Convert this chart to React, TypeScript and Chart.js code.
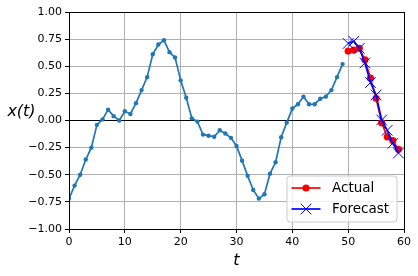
import React, { useEffect, useRef } from "react";
import { Chart, registerables } from "chart.js";

Chart.register(...registerables);

// Time steps 0..49 of the series
const seriesT: number[] = Array.from({ length: 50 }, (_, i) => i);
const seriesX: number[] = [
  -0.72, -0.6, -0.5, -0.36, -0.25, -0.04, 0.01, 0.1, 0.04, 0.0,
  0.085, 0.06, 0.16, 0.28, 0.4, 0.61, 0.7, 0.74, 0.63, 0.58,
  0.37, 0.21, 0.02, -0.01, -0.13, -0.14, -0.15, -0.09, -0.12, -0.16,
  -0.235, -0.37, -0.51, -0.64, -0.72, -0.68, -0.49, -0.385, -0.155, -0.02,
  0.11, 0.15, 0.22, 0.15, 0.15, 0.2, 0.22, 0.28, 0.4, 0.52,
];
// Future steps 50..59
const futureT: number[] = [50, 51, 52, 53, 54, 55, 56, 57, 58, 59];
const actualX: number[] = [0.64, 0.65, 0.665, 0.56, 0.39, 0.205, -0.02, -0.15, -0.185, -0.265];
const forecastX: number[] = [0.71, 0.73, 0.665, 0.53, 0.35, 0.235, 0.005, -0.09, -0.21, -0.3];

const legendLabels: string[] = ["Actual", "Forecast"];
const xTitle = "t";
const yTitle = "x(t)";

const FONT = "'DejaVu Sans', sans-serif";

const framePlugin = {
  id: "frame",
  afterDraw(chart: any) {
    const { ctx, chartArea: a } = chart;
    ctx.save();
    // spines
    ctx.strokeStyle = "#000";
    ctx.lineWidth = 1;
    ctx.strokeRect(Math.round(a.left) + 0.5, Math.round(a.top) + 0.5, Math.round(a.right - a.left), Math.round(a.bottom - a.top));
    // axis titles
    ctx.fillStyle = "#000";
    ctx.font = `italic 16px ${FONT}`;
    ctx.textAlign = "center";
    ctx.textBaseline = "middle";
    ctx.fillText(xTitle, (a.left + a.right) / 2, 261);
    ctx.fillText(yTitle, 21.5, 112);

    // legend
    const bx = a.right - 117, by = a.bottom - 53, bw = 110, bh = 46;
    ctx.beginPath();
    const r = 3;
    ctx.moveTo(bx + r, by);
    ctx.lineTo(bx + bw - r, by);
    ctx.arcTo(bx + bw, by, bx + bw, by + r, r);
    ctx.lineTo(bx + bw, by + bh - r);
    ctx.arcTo(bx + bw, by + bh, bx + bw - r, by + bh, r);
    ctx.lineTo(bx + r, by + bh);
    ctx.arcTo(bx, by + bh, bx, by + bh - r, r);
    ctx.lineTo(bx, by + r);
    ctx.arcTo(bx, by, bx + r, by, r);
    ctx.closePath();
    ctx.fillStyle = "rgba(255,255,255,0.8)";
    ctx.fill();
    ctx.strokeStyle = "#cccccc";
    ctx.stroke();

    const ds = chart.data.datasets;
    const rows = [by + 12, by + 33];
    [1, 2].forEach((di, i) => {
      const d = ds[di];
      const y = rows[i];
      const x0 = bx + 4.5, x1 = bx + 33.5, xm = (x0 + x1) / 2;
      ctx.strokeStyle = d.borderColor;
      ctx.lineWidth = d.borderWidth;
      ctx.beginPath();
      ctx.moveTo(x0, y);
      ctx.lineTo(x1, y);
      ctx.stroke();
      if (d.pointStyle === "circle") {
        ctx.fillStyle = d.pointBackgroundColor;
        ctx.beginPath();
        ctx.arc(xm, y, d.pointRadius, 0, Math.PI * 2);
        ctx.fill();
      } else {
        const o = d.pointRadius * Math.SQRT1_2;
        ctx.strokeStyle = d.pointBorderColor;
        ctx.lineWidth = d.pointBorderWidth;
        ctx.beginPath();
        ctx.moveTo(xm - o, y - o);
        ctx.lineTo(xm + o, y + o);
        ctx.moveTo(xm - o, y + o);
        ctx.lineTo(xm + o, y - o);
        ctx.stroke();
      }
      ctx.fillStyle = "#000";
      ctx.font = `13.5px ${FONT}`;
      ctx.textAlign = "left";
      ctx.textBaseline = "middle";
      ctx.fillText(legendLabels[i], bx + 45, y + 0.5);
    });
    ctx.restore();
  },
};

export default function App() {
  const ref = useRef<HTMLCanvasElement | null>(null);
  useEffect(() => {
    document.body.style.margin = "0";
    const canvas = ref.current;
    if (!canvas) return;
    const chart = new Chart(canvas, {
      type: "line",
      data: {
        datasets: [
          {
            data: seriesT.map((t, i) => ({ x: t, y: seriesX[i] })),
            order: 2,
            borderColor: "#1f77b4",
            backgroundColor: "#1f77b4",
            borderWidth: 1.7,
            pointRadius: 2.2,
            pointStyle: "circle",
            pointBackgroundColor: "#1f77b4",
            pointBorderWidth: 0,
            tension: 0,
          },
          {
            data: futureT.map((t, i) => ({ x: t, y: actualX[i] })),
            order: 1,
            borderColor: "#ff0000",
            backgroundColor: "#ff0000",
            borderWidth: 1.7,
            pointRadius: 3.6,
            pointStyle: "circle",
            pointBackgroundColor: "#ff0000",
            pointBorderColor: "#ff0000",
            pointBorderWidth: 0,
            tension: 0,
          },
          {
            data: futureT.map((t, i) => ({ x: t, y: forecastX[i] })),
            order: 0,
            borderColor: "#0000ff",
            backgroundColor: "#0000ff",
            borderWidth: 1.7,
            pointRadius: 7.5,
            pointStyle: "crossRot",
            pointBorderColor: "#0000ff",
            pointBackgroundColor: "#0000ff",
            pointBorderWidth: 1,
            tension: 0,
          },
        ],
      },
      options: {
        animation: false,
        responsive: false,
        layout: { padding: { top: 12, right: 14, left: 0, bottom: 0 } },
        plugins: { legend: { display: false }, tooltip: { enabled: false } },
        scales: {
          x: {
            type: "linear",
            min: 0,
            max: 60,
            afterFit: (s: any) => { s.height = 47; },
            border: { display: false },
            grid: { color: "#b0b0b0", lineWidth: 1, tickColor: "#000", tickLength: 4, drawTicks: true },
            ticks: { stepSize: 10, color: "#000", font: { family: FONT, size: 11 }, padding: 3, maxRotation: 0 },
          },
          y: {
            type: "linear",
            min: -1,
            max: 1,
            afterFit: (s: any) => { s.width = 69; },
            border: { display: false },
            grid: {
              color: (c: any) => (c.tick && c.tick.value === 0 ? "#000" : "#b0b0b0"),
              lineWidth: 1,
              tickColor: "#000",
              tickLength: 4,
              drawTicks: true,
            },
            ticks: {
              stepSize: 0.25,
              color: "#000",
              font: { family: FONT, size: 11 },
              padding: 3,
              callback: (v: any) => Number(v).toFixed(2).replace("-", "\u2212"),
            },
          },
        },
      },
      plugins: [framePlugin],
    });
    return () => chart.destroy();
  }, []);
  return (
    <div style={{ position: "absolute", left: 0, top: 0, width: 418, height: 276 }}>
      <canvas ref={ref} width={418} height={276} />
    </div>
  );
}
